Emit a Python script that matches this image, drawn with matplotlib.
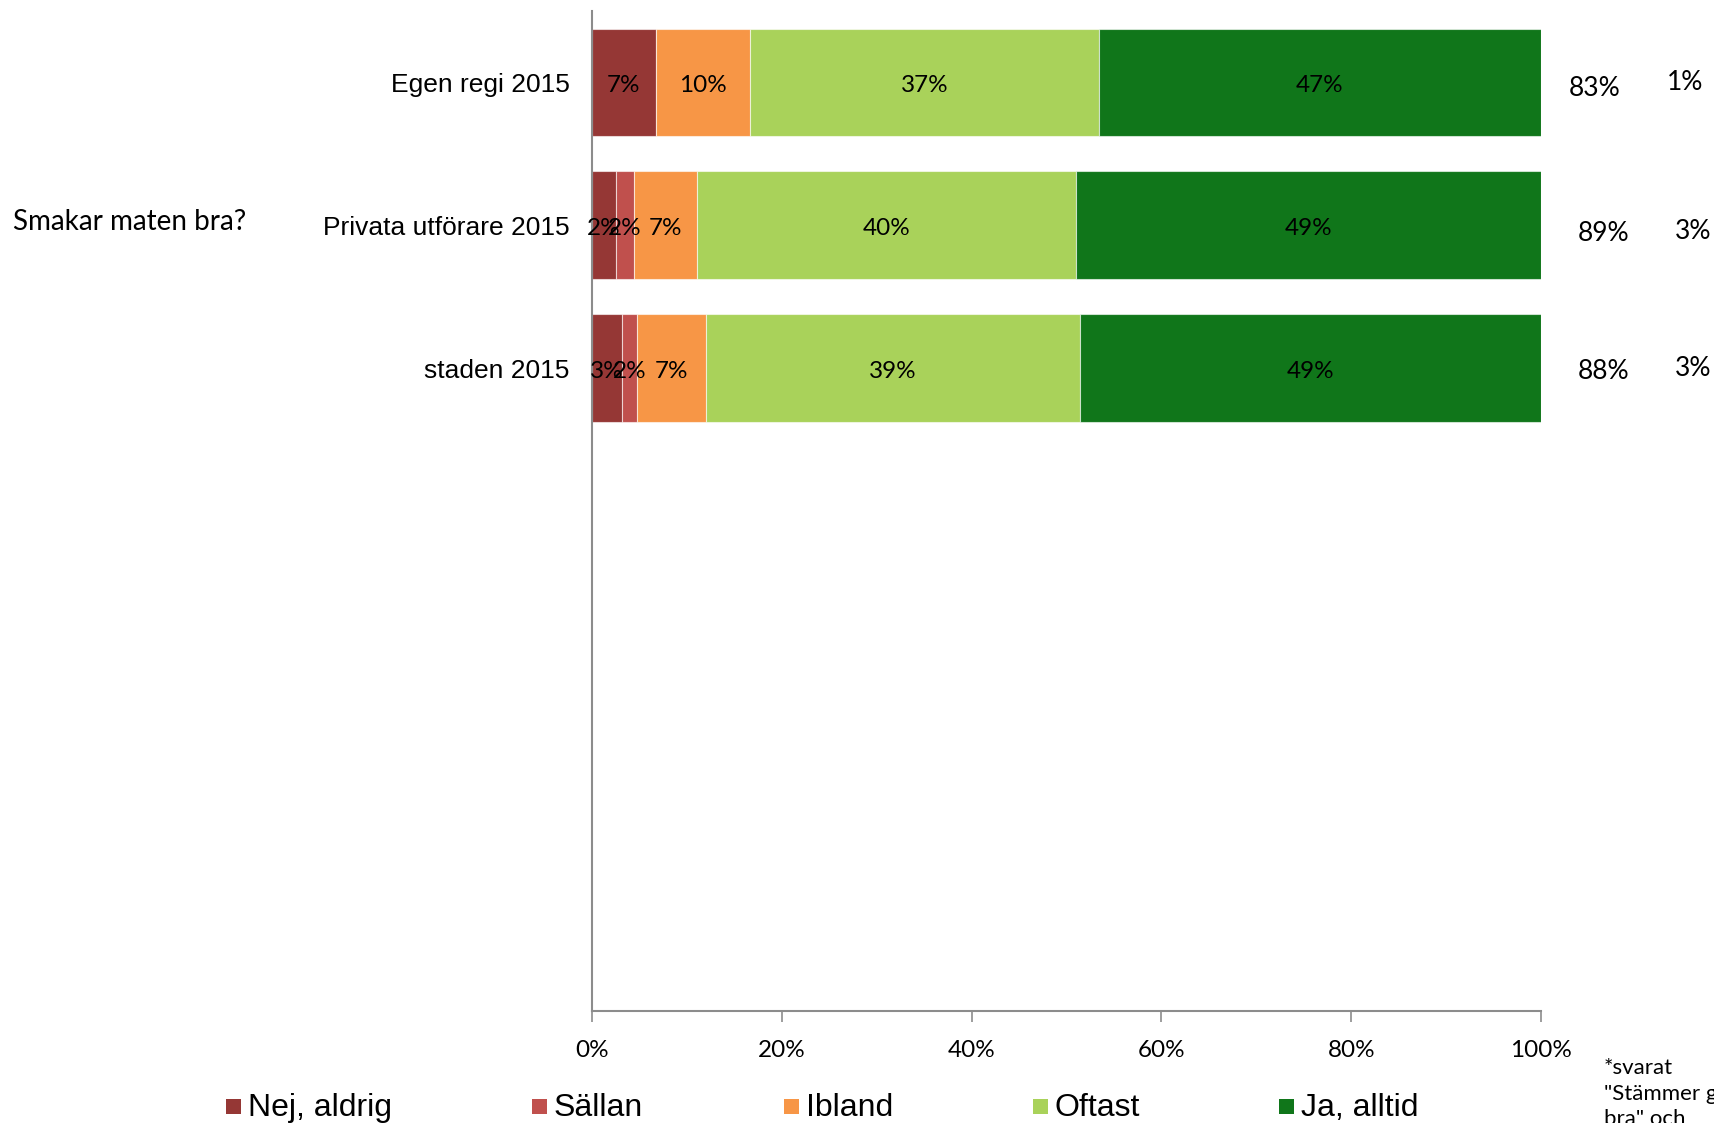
import matplotlib
matplotlib.use("Agg")
import matplotlib.pyplot as plt
from matplotlib.patches import Rectangle

# ---- data ----
categories = ["Egen regi 2015", "Privata utförare 2015", "staden 2015"]
series_names = ["Nej, aldrig", "Sällan", "Ibland", "Oftast", "Ja, alltid"]
nej_aldrig = [6.7, 2.5, 3.2]
sallan = [0.0, 1.9, 1.5]
ibland = [10.0, 6.7, 7.3]
oftast = [36.7, 39.9, 39.4]
ja_alltid = [46.6, 49.0, 48.6]
share_good = ["83%", "89%", "88%"]
share_other = ["1%", "3%", "3%"]
question = "Smakar maten bra?"
footnote = '*svarat\n"Stämmer ganska\nbra" och'
xticks = [0, 20, 40, 60, 80, 100]
xtick_labels = ["0%", "20%", "40%", "60%", "80%", "100%"]

colors = ["#953735", "#C0504D", "#F79646", "#A9D25A", "#10761A"]
n_slots = 7

# layout of right-hand columns (axes-data x, y offset)
good_x = [105.7, 106.6, 106.6]
good_dy = [0.04, 0.06, 0.02]
other_x = [115.2, 116.0, 116.0]
other_dy = [0.0, 0.04, 0.0]

W, H = 1714, 1123
fig = plt.figure(figsize=(W / 100, H / 100), dpi=100)
ax = fig.add_axes([592 / W, 1 - 1011 / H, (1541 - 592) / W, (1011 - 11) / H])

series = [nej_aldrig, sallan, ibland, oftast, ja_alltid]
ypos = list(range(len(categories)))
left = [0.0] * len(categories)
for vals, col in zip(series, colors):
    ax.barh(ypos, vals, left=left, height=0.755, color=col,
            edgecolor=(1, 1, 1, 0.6), linewidth=0.8)
    for y, v, l in zip(ypos, vals, left):
        if v > 0:
            ax.text(l + v / 2, y + 0.02, f"{v:.0f}%", ha="center", va="center",
                    fontsize=17.5, family="Lato", color="black")
    left = [a + b for a, b in zip(left, vals)]

ax.set_xlim(0, 100)
ax.set_ylim(n_slots - 0.5, -0.5)

ax.set_yticks(ypos)
ax.set_yticklabels(categories, fontsize=19, family="Liberation Sans")
ax.tick_params(axis="y", length=0, pad=16)
ax.set_xticks(xticks)
ax.set_xticklabels(xtick_labels, fontsize=17.5, family="Lato")
ax.tick_params(axis="x", length=8, width=1.2, color="#8C8C8C", pad=13)

for s in ["top", "right"]:
    ax.spines[s].set_visible(False)
for s in ["left", "bottom"]:
    ax.spines[s].set_color("#8C8C8C")
    ax.spines[s].set_linewidth(1.5)

# right-hand summary columns
for y, g, o, gx, gdy, ox, ody in zip(ypos, share_good, share_other,
                                     good_x, good_dy, other_x, other_dy):
    ax.text(gx, y + gdy, g, ha="center", va="center", fontsize=19,
            family="Lato", clip_on=False)
    ax.text(ox, y + ody, o, ha="center", va="center", fontsize=19,
            family="Lato", clip_on=False)

fig.text(13 / W, 1 - 222 / H, question, ha="left", va="center",
         fontsize=20, family="Lato")

fig.text(1604 / W, 1 - 1058 / H, footnote, ha="left", va="top",
         fontsize=16, family="Lato", linespacing=1.35)

# legend
leg_x = [226, 532, 784, 1033, 1279]
for x, c, name in zip(leg_x, colors, series_names):
    fig.patches.append(Rectangle((x / W, 1 - 1114 / H), 15 / W, 15 / H,
                                 facecolor=c, edgecolor="none",
                                 transform=fig.transFigure, figure=fig))
    fig.text((x + 22) / W, 1 - 1108 / H, name, ha="left", va="center",
             fontsize=23, family="Liberation Sans")

fig.savefig("out.png", dpi=100)
